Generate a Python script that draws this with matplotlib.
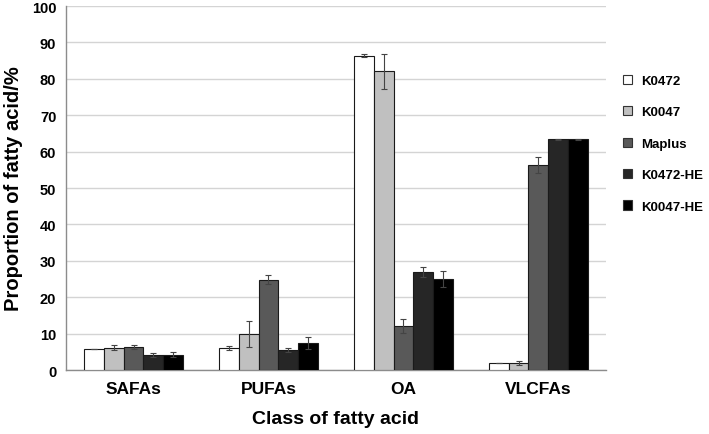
import numpy as np
import matplotlib
matplotlib.use("Agg")
from matplotlib import pyplot as plt
from matplotlib.patches import Patch

plt.rcParams['font.family'] = ['Liberation Sans', 'DejaVu Sans']
plt.rcParams['font.weight'] = 'bold'

classes = ["SAFAs", "PUFAs", "OA", "VLCFAs"]
lines = ["K0472", "K0047", "Maplus", "K0472-HE", "K0047-HE"]

# mean values per line, one entry per class
k0472 = [5.7, 6.0, 86.3, 1.9]
k0047 = [6.1, 9.9, 82.1, 2.0]
maplus = [6.4, 24.8, 12.0, 56.3]
k0472_he = [4.2, 5.5, 27.0, 63.4]
k0047_he = [4.2, 7.5, 24.9, 63.4]

# standard deviations
k0472_sd = [0.0, 0.6, 0.4, 0.0]
k0047_sd = [0.7, 3.7, 4.8, 0.6]
maplus_sd = [0.6, 1.2, 1.9, 2.2]
k0472_he_sd = [0.6, 0.5, 1.4, 0.2]
k0047_he_sd = [0.7, 1.7, 2.2, 0.2]

renkler = ["#ffffff", "#c0c0c0", "#595959", "#262626", "#000000"]

degerler = [k0472, k0047, maplus, k0472_he, k0047_he]
hatalar = [k0472_sd, k0047_sd, maplus_sd, k0472_he_sd, k0047_he_sd]

fig = plt.figure(figsize=(7.09, 4.35), dpi=100)
ax = fig.add_axes([0.0931, 0.1471, 0.7616, 0.8368])

x = np.arange(len(classes))
w = 0.148
for i in range(5):
    pos = x + (i - 2) * w
    ax.bar(pos, degerler[i], w, color=renkler[i], edgecolor="#1a1a1a",
           linewidth=0.8, zorder=3, label=lines[i])
    ax.errorbar(pos, degerler[i], yerr=hatalar[i], fmt="none", ecolor="#444444",
                elinewidth=0.8, capsize=2.5, capthick=0.8, zorder=4)

ax.set_xlim(-0.5, 3.5)
ax.set_ylim(0, 100)
ax.set_yticks(range(0, 101, 10))
ax.set_xticks(x)
ax.set_xticklabels(classes, fontsize=12.5, fontweight="bold")
ax.tick_params(axis="y", labelsize=10.5, length=0, pad=7)
ax.tick_params(axis="x", length=0, pad=8)
for lab in ax.get_yticklabels():
    lab.set_fontweight("bold")

ax.grid(axis="y", color="#d4d4d4", linewidth=1.0, zorder=0)
ax.set_axisbelow(True)
for s in ["top", "right"]:
    ax.spines[s].set_visible(False)
ax.spines["left"].set_color("#8c8c8c")
ax.spines["bottom"].set_color("#8c8c8c")
ax.spines["left"].set_linewidth(1.0)
ax.spines["bottom"].set_linewidth(1.0)

ax.set_ylabel("Proportion of fatty acid/%", fontsize=14.5, fontweight="bold", labelpad=6)
ax.set_xlabel("Class of fatty acid", fontsize=14, fontweight="bold", labelpad=10)

handles = [Patch(facecolor=renkler[i], edgecolor="#333333", linewidth=0.8) for i in range(5)]
fig.legend(handles, lines, loc="upper left", bbox_to_anchor=(0.862, 0.853),
           frameon=False, handlelength=0.7, handleheight=0.7,
           handletextpad=0.7, labelspacing=1.45, prop={"weight": "bold", "size": 9.5})

plt.savefig("out.png", dpi=100)
